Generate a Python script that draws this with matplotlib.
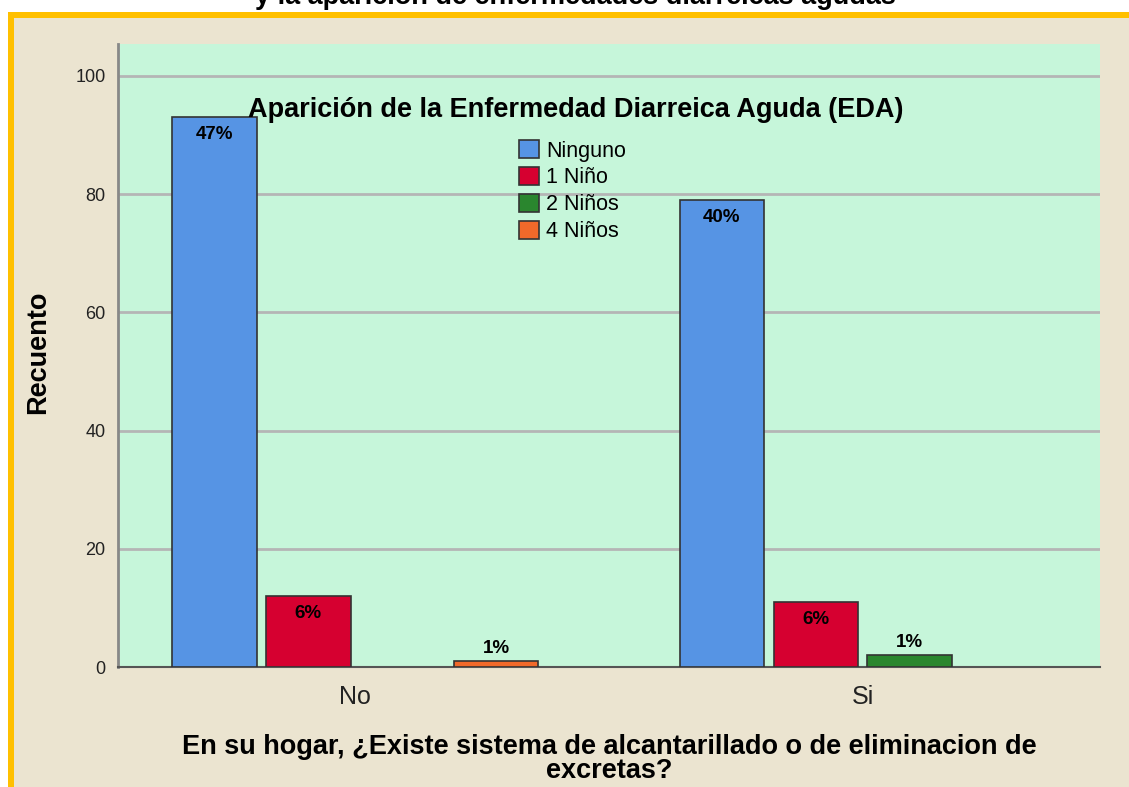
import numpy as np
from matplotlib import pyplot as plt
from matplotlib.patches import Rectangle

plt.rcParams['font.family'] = ['Liberation Sans', 'DejaVu Sans']

# Datos
categorias = ['No', 'Si']
series = ['Ninguno', '1 Niño', '2 Niños', '4 Niños']
ninguno = [93, 79]
un_nino = [12, 11]
dos_ninos = [0, 2]
cuatro_ninos = [1, 0]
colores = ['#5694E4', '#D60030', '#2A862E', '#F0692A']

valores = [ninguno, un_nino, dos_ninos, cuatro_ninos]
total = sum(sum(v) for v in valores)

W, H = 1129, 787
fig = plt.figure(figsize=(W / 100, H / 100), dpi=100)
fig.patch.set_facecolor('white')

# Marco amarillo y fondo beige
fig.patches.append(Rectangle((8 / W, -0.1), 1.2, 1.1 - 12 / H, transform=fig.transFigure,
                             facecolor='#FFC000', edgecolor='none', zorder=-10))
fig.patches.append(Rectangle((14 / W, -0.1), 1.2, 1.1 - 18 / H, transform=fig.transFigure,
                             facecolor='#EBE4D0', edgecolor='none', zorder=-9))

fig.text(575 / W, 1 - 4 / H, 'y la aparición de enfermedades diarreicas agudas',
         ha='center', va='baseline', fontsize=19.5, fontweight='bold')

ax = fig.add_axes([118 / W, 1 - 667 / H, (1100 - 118) / W, (667 - 44) / H])
ax.set_zorder(1)
ax.set_facecolor('#C6F6DA')

x = np.arange(len(categorias))
paso = 0.185
ancho = 0.167
for i, (serie, vals, col) in enumerate(zip(series, valores, colores)):
    pos = x + (i - 1.5) * paso
    for p, v in zip(pos, vals):
        if v == 0:
            continue
        ax.bar(p, v, width=ancho, color=col, edgecolor='#333333', linewidth=1.2, zorder=3)
        pct = '%d%%' % round(v / total * 100)
        if v > 5:
            ax.text(p, v - 2.9, pct, ha='center', va='center', fontsize=13.5,
                    fontweight='bold', zorder=4)
        else:
            ax.text(p, v + 2.2, pct, ha='center', va='center', fontsize=13.5,
                    fontweight='bold', zorder=4)

ax.set_xlim(-0.467, 1.467)
ax.set_ylim(0, 105.4)
ax.set_yticks([0, 20, 40, 60, 80, 100])
ax.yaxis.grid(True, color='#B5B5B5', linewidth=2, zorder=1)
ax.set_axisbelow(True)
ax.set_xticks(x)
ax.set_xticklabels(categorias, fontsize=18, color='#222222')
ax.tick_params(axis='x', length=0, pad=13)
ax.tick_params(axis='y', length=0, pad=9, labelsize=13, labelcolor='#222222')
for s in ['top', 'right']:
    ax.spines[s].set_visible(False)
ax.spines['left'].set_color('#888888')
ax.spines['left'].set_linewidth(2)
ax.spines['bottom'].set_color('#555555')
ax.spines['bottom'].set_linewidth(1.5)

fig.text(38 / W, 1 - 352 / H, 'Recuento', rotation=90, ha='center', va='center',
         fontsize=19.5, fontweight='bold')

fig.text(609 / W, 1 - 759 / H,
         'En su hogar, ¿Existe sistema de alcantarillado o de eliminacion de\nexcretas?',
         ha='center', va='center', fontsize=19.5, fontweight='bold', linespacing=0.95)

# Leyenda
ax.text((576 - 118) / (1100 - 118), 1 - (110 - 44) / (667 - 44),
        'Aparición de la Enfermedad Diarreica Aguda (EDA)', transform=ax.transAxes,
        ha='center', va='center', fontsize=19.5, fontweight='bold', zorder=5)
handles = [Rectangle((0, 0), 1, 1, facecolor=c, edgecolor='#333333', linewidth=1.2)
           for c in colores]
leg = ax.legend(handles, series, loc='upper left', frameon=False, fontsize=15.5,
                bbox_to_anchor=((519 - 118) / (1100 - 118), 1 - (140 - 44) / (667 - 44)),
                handlelength=0.93, handleheight=0.93, handletextpad=0.33,
                labelspacing=0.25, borderpad=0, borderaxespad=0)

fig.savefig('out.png', dpi=100)
